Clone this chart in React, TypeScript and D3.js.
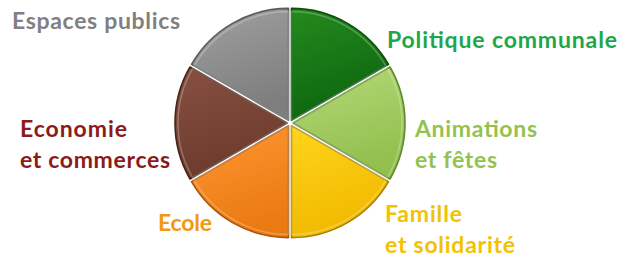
import React from 'react';
import * as d3 from 'd3';

// one equal share per theme, clockwise from 12 o'clock
const categories = [
  'Politique communale',
  'Animations et fêtes',
  'Famille et solidarité',
  'Ecole',
  'Economie et commerces',
  'Espaces publics',
];
const shares = [1, 1, 1, 1, 1, 1];
const fillTop = ['#248a1e', '#b5da78', '#ffd51a', '#ff9732', '#875142', '#a0a0a0'];
const fillBottom = ['#0d660e', '#92bf4e', '#f1b900', '#eb7a12', '#6c3a2c', '#7e7e7e'];
const strokes = ['#0b4d0b', '#5f8a2c', '#a88000', '#a95408', '#4a2419', '#5a5a5a'];
const labelColors = ['#1fa64a', '#92c350', '#f2c200', '#f39812', '#8b1a1a', '#808080'];

// label lines, one entry per category
const labelLines = [
  ['Politique communale'],
  ['Animations', 'et fêtes'],
  ['Famille', 'et solidarité'],
  ['Ecole'],
  ['Economie', 'et commerces'],
  ['Espaces publics'],
];
// widths of each line
const labelWidths = [
  [230],
  [122, 82],
  [77, 130],
  [54],
  [107, 150],
  [168],
];
const labelPos: [number, number][] = [
  [387, 48],
  [415, 137],
  [385, 222],
  [158, 231],
  [20, 137],
  [12, 29],
];

export default function App() {
  const width = 622;
  const height = 258;
  const cx = 290;
  const cy = 123;
  const r = 112;
  const explode = 3;
  const lineGap = 31;

  const pie = d3.pie<number>().sort(null).value(d => d);
  const arcs = pie(shares);
  const arc = d3.arc<d3.PieArcDatum<number>>().innerRadius(0).outerRadius(r);
  const inner = d3.arc<d3.PieArcDatum<number>>().innerRadius(0).outerRadius(r - 3);

  return (
    <svg width={width} height={height} style={{ position: 'absolute', left: 0, top: 0, background: '#fff' }}>
      <defs>
        {arcs.map((a, i) => (
          <linearGradient key={i} id={`g${i}`} x1="0" y1="0" x2="0.3" y2="1">
            <stop offset="0%" stopColor={fillTop[i]} />
            <stop offset="100%" stopColor={fillBottom[i]} />
          </linearGradient>
        ))}
      </defs>
      <g transform={`translate(${cx},${cy})`}>
        {arcs.map((a, i) => {
          const mid = (a.startAngle + a.endAngle) / 2;
          const dx = Math.sin(mid) * explode;
          const dy = -Math.cos(mid) * explode;
          return (
            <g key={categories[i]} transform={`translate(${dx},${dy})`}>
              <path d={arc(a) || ''} fill={`url(#g${i})`} stroke={strokes[i]} strokeWidth={1.6} strokeLinejoin="round" />
              <path d={inner(a) || ''} fill="none" stroke="#fff" strokeOpacity={0.25} strokeWidth={1.5} />
            </g>
          );
        })}
      </g>
      {labelLines.map((lines, i) =>
        lines.map((l, j) => (
          <text
            key={l}
            x={labelPos[i][0]}
            y={labelPos[i][1] + j * lineGap}
            fill={labelColors[i]}
            fontFamily="Lato, 'Open Sans', sans-serif"
            fontWeight={700}
            fontSize={23}
            textLength={labelWidths[i][j]}
            lengthAdjust="spacing"
          >
            {l}
          </text>
        ))
      )}
    </svg>
  );
}
